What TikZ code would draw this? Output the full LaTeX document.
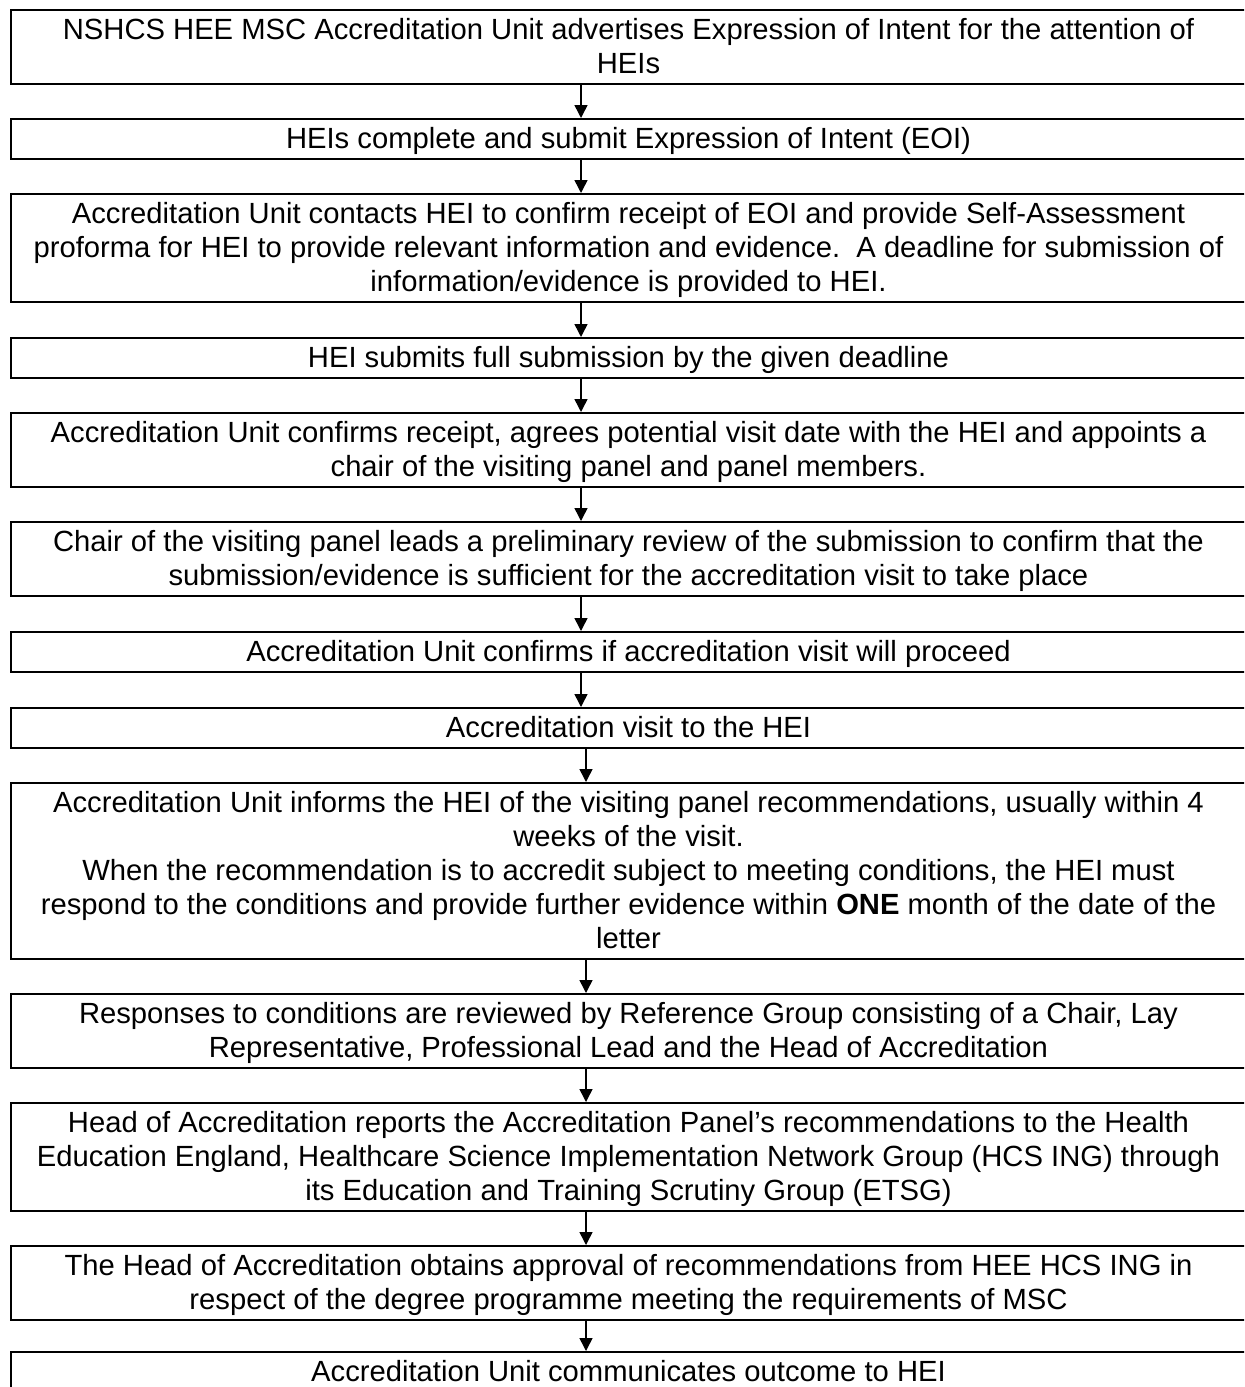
\documentclass[tikz,border=0pt]{standalone}
\usepackage{fontspec}
\setmainfont{Liberation Sans}
\usetikzlibrary{arrows.meta}
\newcommand\lnstrut{\rule[-4pt]{0pt}{17pt}}
\newcommand\nl{\\\lnstrut}
\begin{document}
\begin{tikzpicture}[x=0.5pt,y=-0.5pt,
  flowbox/.style={draw, line width=1pt, inner xsep=0pt, inner ysep=1.5pt,
    anchor=north, minimum width=617.5pt, align=center,
    font=\fontsize{14.6}{17}\selectfont},
  arr/.style={line width=0.75pt, -{Triangle[width=6.5pt,length=6.5pt]}}]
\useasboundingbox (0,0) rectangle (1244,1387);
\clip (0,0) rectangle (1244,1387);
\coordinate (ax) at (581,0);
\coordinate (ay) at (586,0);
\node[flowbox] (b1) at (628.5,9) {\lnstrut NSHCS HEE MSC Accreditation Unit advertises Expression of Intent for the attention of\nl HEIs};
\node[flowbox] (b2) at (628.5,118) {\lnstrut HEIs complete and submit Expression of Intent (EOI)};
\node[flowbox] (b3) at (628.5,193) {\lnstrut Accreditation Unit contacts HEI to confirm receipt of EOI and provide Self-Assessment\nl proforma for HEI to provide relevant information and evidence.\ \ A deadline for submission of\nl information/evidence is provided to HEI.};
\node[flowbox] (b4) at (628.5,337) {\lnstrut HEI submits full submission by the given deadline};
\node[flowbox] (b5) at (628.5,412) {\lnstrut Accreditation Unit confirms receipt, agrees potential visit date with the HEI and appoints a\nl chair of the visiting panel and panel members.};
\node[flowbox] (b6) at (628.5,521) {\lnstrut Chair of the visiting panel leads a preliminary review of the submission to confirm that the\nl submission/evidence is sufficient for the accreditation visit to take place};
\node[flowbox] (b7) at (628.5,631) {\lnstrut Accreditation Unit confirms if accreditation visit will proceed};
\node[flowbox] (b8) at (628.5,707) {\lnstrut Accreditation visit to the HEI};
\node[flowbox] (b9) at (628.5,782) {\lnstrut Accreditation Unit informs the HEI of the visiting panel recommendations, usually within 4\nl weeks of the visit.\nl When the recommendation is to accredit subject to meeting conditions, the HEI must\nl respond to the conditions and provide further evidence within \textbf{ONE} month of the date of the\nl letter};
\node[flowbox] (b10) at (628.5,993) {\lnstrut Responses to conditions are reviewed by Reference Group consisting of a Chair, Lay\nl Representative, Professional Lead and the Head of Accreditation};
\node[flowbox] (b11) at (628.5,1102) {\lnstrut Head of Accreditation reports the Accreditation Panel’s recommendations to the Health\nl Education England, Healthcare Science Implementation Network Group (HCS ING) through\nl its Education and Training Scrutiny Group (ETSG)};
\node[flowbox] (b12) at (628.5,1245) {\lnstrut The Head of Accreditation obtains approval of recommendations from HEE HCS ING in\nl respect of the degree programme meeting the requirements of MSC};
\node[flowbox] (b13) at (628.5,1351) {\lnstrut Accreditation Unit communicates outcome to HEI};
\draw[arr] (b1.south -| ax) -- (b2.north -| ax);
\draw[arr] (b2.south -| ax) -- (b3.north -| ax);
\draw[arr] (b3.south -| ax) -- (b4.north -| ax);
\draw[arr] (b4.south -| ax) -- (b5.north -| ax);
\draw[arr] (b5.south -| ax) -- (b6.north -| ax);
\draw[arr] (b6.south -| ax) -- (b7.north -| ax);
\draw[arr] (b7.south -| ax) -- (b8.north -| ax);
\draw[arr] (b8.south -| ay) -- (b9.north -| ay);
\draw[arr] (b9.south -| ay) -- (b10.north -| ay);
\draw[arr] (b10.south -| ay) -- (b11.north -| ay);
\draw[arr] (b11.south -| ay) -- (b12.north -| ay);
\draw[arr] (b12.south -| ay) -- (b13.north -| ay);
\end{tikzpicture}
\end{document}
